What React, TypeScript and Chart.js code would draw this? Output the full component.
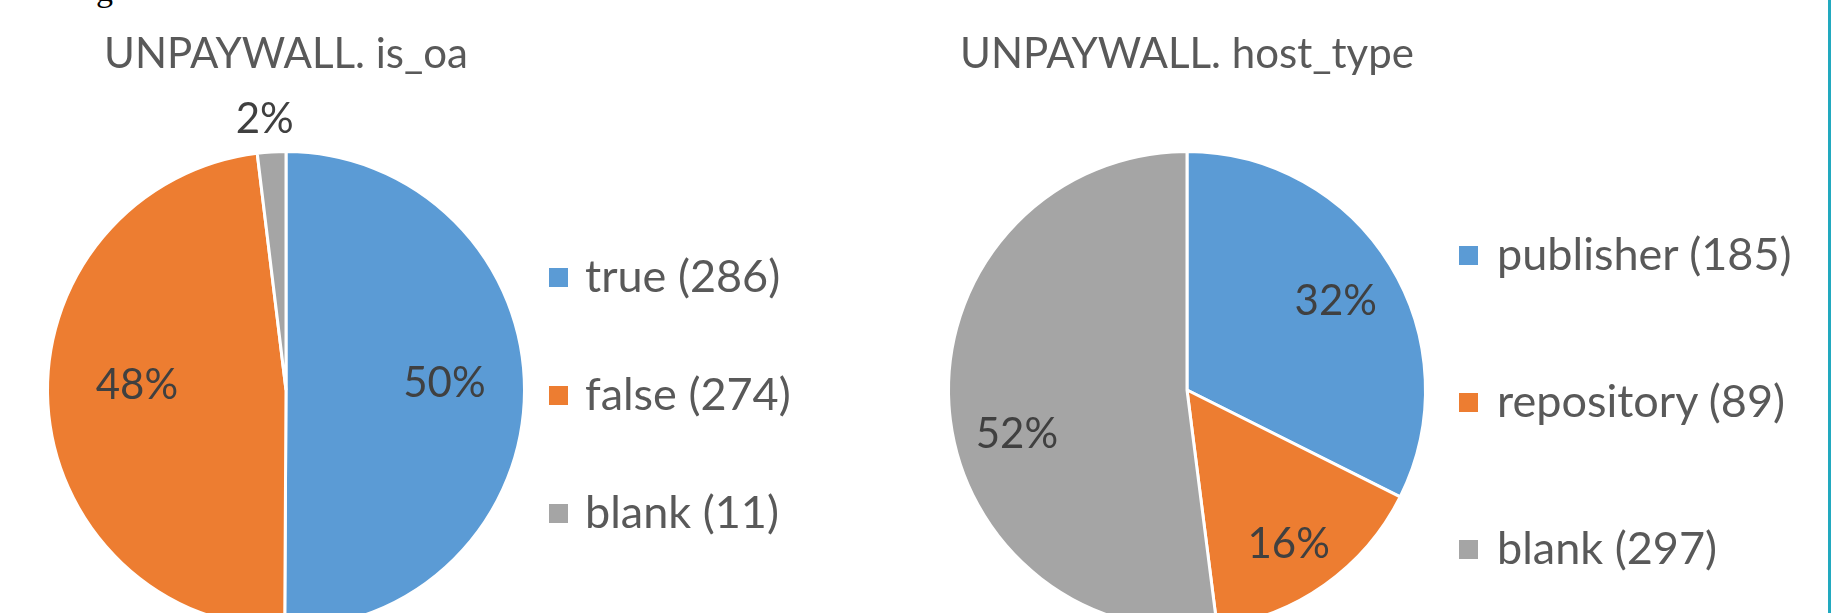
import React, { useEffect, useRef } from "react";
import { Chart, registerables } from "chart.js";

Chart.register(...registerables);

// ---------- data ----------
const isOaCategories = ["true", "false", "blank"];
const isOaValues = [286, 274, 11];
const hostTypeCategories = ["publisher", "repository", "blank"];
const hostTypeValues = [185, 89, 297];
const sliceColors = ["#5B9BD5", "#ED7D31", "#A5A5A5"];
const chartTitles = ["UNPAYWALL. is_oa", "UNPAYWALL. host_type"];

// ---------- layout / style ----------
const FONT = "Lato, 'Open Sans', sans-serif";
const TITLE_SIZE = 42;
const LEGEND_SIZE = 45;
const LABEL_SIZE = 42;
const TITLE_COLOR = "#595959";
const LABEL_COLOR = "#404040";

type PieLayout = {
  canvasLeft: number;
  canvasWidth: number;
  canvasHeight: number;
  cx: number;
  cy: number;
  r: number;
  titleCapCenterY: number;
  legendSquareX: number;
  legendTextX: number;
  legendFirstY: number;
  legendGap: number;
  labelRadial: number[];
  labelNudgeDeg: number[];
};

const leftLayout: PieLayout = {
  canvasLeft: 0,
  canvasWidth: 900,
  canvasHeight: 700,
  cx: 286,
  cy: 390,
  r: 237,
  titleCapCenterY: 53,
  legendSquareX: 549,
  legendTextX: 585,
  legendFirstY: 277,
  legendGap: 118,
  labelRadial: [0.665, 0.626, 1.145],
  labelNudgeDeg: [-3.3, 6.0, -1],
};

const rightLayout: PieLayout = {
  canvasLeft: 900,
  canvasWidth: 939,
  canvasHeight: 700,
  cx: 1187,
  cy: 390,
  r: 237,
  titleCapCenterY: 53,
  legendSquareX: 1459,
  legendTextX: 1497,
  legendFirstY: 255,
  legendGap: 147,
  labelRadial: [0.73, 0.77, 0.735],
  labelNudgeDeg: [0.4, 1.7, -10.4],
};

const pctLabelPlugin = {
  id: "pctLabels",
  afterDatasetsDraw(chart: any, _args: any, opts: any) {
    const meta = chart.getDatasetMeta(0);
    const values = chart.data.datasets[0].data as number[];
    const total = values.reduce((a, b) => a + b, 0);
    const ctx = chart.ctx as CanvasRenderingContext2D;
    ctx.save();
    ctx.font = `${LABEL_SIZE}px ${FONT}`;
    ctx.fillStyle = LABEL_COLOR;
    ctx.textAlign = "center";
    ctx.textBaseline = "middle";
    meta.data.forEach((arc: any, i: number) => {
      const p = arc.getProps(["x", "y", "startAngle", "endAngle", "outerRadius"], true);
      const mid = (p.startAngle + p.endAngle) / 2 + ((opts.nudge[i] || 0) * Math.PI) / 180;
      const rr = p.outerRadius * opts.radial[i];
      const text = Math.round((values[i] / total) * 100) + "%";
      ctx.fillText(text, p.x + rr * Math.cos(mid), p.y + rr * Math.sin(mid) + 2);
    });
    ctx.restore();
  },
};

function PieBlock(props: {
  categories: string[];
  values: number[];
  title: string;
  layout: PieLayout;
}) {
  const { categories, values, title, layout: L } = props;
  const ref = useRef<HTMLCanvasElement | null>(null);

  useEffect(() => {
    if (!ref.current) return;
    const half = L.r + 12;
    const localCx = L.cx - L.canvasLeft;
    const chart = new Chart(ref.current, {
      type: "pie",
      data: {
        labels: categories.map((c, i) => `${c} (${values[i]})`),
        datasets: [
          {
            data: values,
            backgroundColor: sliceColors,
            borderColor: "#ffffff",
            borderWidth: 3,
          },
        ],
      },
      options: {
        responsive: false,
        animation: false,
        radius: L.r + 1.5,
        events: [],
        layout: {
          padding: {
            left: localCx - half,
            right: L.canvasWidth - localCx - half,
            top: L.cy - half,
            bottom: L.canvasHeight - L.cy - half,
          },
        },
        plugins: {
          legend: { display: false },
          tooltip: { enabled: false },
          title: { display: false },
          pctLabels: { radial: L.labelRadial, nudge: L.labelNudgeDeg },
        } as any,
      } as any,
      plugins: [pctLabelPlugin as any],
    });
    return () => chart.destroy();
  }, []);

  const squareSize = 19;
  return (
    <>
      <canvas
        ref={ref}
        width={L.canvasWidth}
        height={L.canvasHeight}
        style={{ position: "absolute", left: L.canvasLeft, top: 0, width: L.canvasWidth, height: L.canvasHeight }}
      />
      <div
        style={{
          position: "absolute",
          left: L.cx - 400,
          width: 800,
          top: L.titleCapCenterY - 0.5285 * TITLE_SIZE,
          textAlign: "center",
          fontFamily: FONT,
          fontSize: TITLE_SIZE,
          lineHeight: `${TITLE_SIZE}px`,
          color: TITLE_COLOR,
          whiteSpace: "nowrap",
        }}
      >
        {title}
      </div>
      {categories.map((c, i) => {
        const yc = L.legendFirstY + i * L.legendGap;
        return (
          <React.Fragment key={c}>
            <div
              style={{
                position: "absolute",
                left: L.legendSquareX,
                top: yc - squareSize / 2,
                width: squareSize,
                height: squareSize,
                background: sliceColors[i],
              }}
            />
            <div
              style={{
                position: "absolute",
                left: L.legendTextX,
                top: yc - 0.5285 * LEGEND_SIZE,
                fontFamily: FONT,
                fontSize: LEGEND_SIZE,
                lineHeight: `${LEGEND_SIZE}px`,
                color: TITLE_COLOR,
                whiteSpace: "nowrap",
              }}
            >
              {`${c} (${values[i]})`}
            </div>
          </React.Fragment>
        );
      })}
    </>
  );
}

export default function App() {
  return (
    <div
      style={{
        position: "absolute",
        left: 0,
        top: 0,
        width: 1839,
        height: 613,
        overflow: "hidden",
        background: "#ffffff",
      }}
    >
      <div
        style={{
          position: "absolute",
          left: 96,
          top: -27,
          fontFamily: "'Liberation Serif', serif",
          fontSize: 34,
          lineHeight: "34px",
          color: "#000",
        }}
      >
        g
      </div>
      <PieBlock categories={isOaCategories} values={isOaValues} title={chartTitles[0]} layout={leftLayout} />
      <PieBlock categories={hostTypeCategories} values={hostTypeValues} title={chartTitles[1]} layout={rightLayout} />
      <div
        style={{
          position: "absolute",
          left: 1828,
          top: 0,
          width: 3,
          height: 613,
          background: "#22A9BF",
        }}
      />
    </div>
  );
}
